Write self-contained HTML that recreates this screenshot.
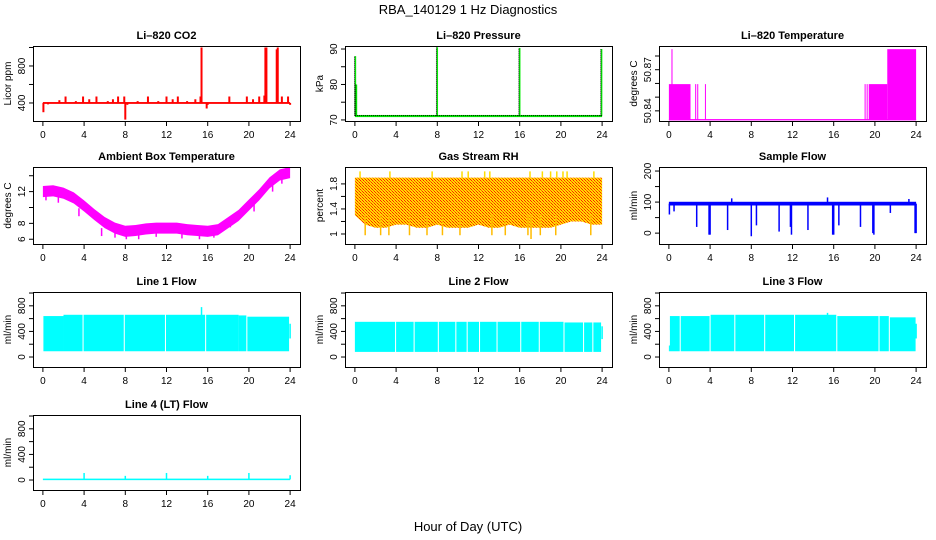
<!DOCTYPE html>
<html><head><meta charset="utf-8"><style>
body{margin:0;background:#fff}
svg{display:block;font-family:"Liberation Sans",sans-serif}
</style></head><body>
<svg id="c" width="936" height="540" viewBox="0 0 936 540">
<defs><pattern id="rh" width="3" height="3" patternUnits="userSpaceOnUse"><rect width="3" height="3" fill="#ffdd00"/><rect width="1" height="1" fill="#ff2000"/><rect x="1" y="1" width="1" height="1" fill="#ff6000"/><rect x="2" y="2" width="1" height="1" fill="#ff2000"/></pattern></defs>
<text x="468" y="14" text-anchor="middle" font-size="13">RBA_140129  1 Hz Diagnostics</text>
<text x="468" y="531" text-anchor="middle" font-size="13">Hour of Day (UTC)</text>
</svg>
<script>
// ---- data ----
const xTicks=[0,4,8,12,16,20,24];
const co2Spikes=[[0.05,300],[0.5,385],[1.6,430],[2.2,470],[3.2,420],[3.9,470],[4.5,440],[5.2,470],[6.3,420],[6.8,440],[7.3,470],[7.9,470],[8.0,220],[8.2,380],[9.2,420],[10.2,470],[11.2,420],[12.0,470],[12.6,440],[13.1,470],[14.0,420],[14.8,440],[15.3,470],[15.4,1000],[15.9,340],[16.0,380],[18.1,470],[19.8,470],[20.4,440],[21.0,470],[21.5,480],[21.6,1000],[21.7,1000],[22.7,980],[22.8,1000],[23.2,470],[23.8,470],[24.0,380]];
const presBase=71.2;
const presSpikes=[[0.05,88],[0.15,80],[8.0,90.5],[16.0,90.3],[23.95,90]];
const tempBase=50.8335;
const tempSegs=[[0,2.1,50.8595],[0.25,0.35,50.885],[2.55,2.65,50.8595],[2.75,2.85,50.8595],[3.5,3.55,50.8595],[19.0,19.05,50.8595],[19.2,19.25,50.8595],[19.4,21.2,50.8595],[21.2,24.0,50.885]];
const ambHours=[0,1,2,3,4,5,6,7,8,9,10,11,12,13,14,15,16,17,18,19,20,21,22,23,24];
const ambVals=[12.2,12.3,12.0,11.4,10.4,9.3,8.3,7.6,7.2,7.3,7.5,7.6,7.6,7.6,7.4,7.3,7.2,7.4,8.3,9.2,10.5,11.8,13.3,14.3,14.6];
const ambDips=[[0.3,10.9],[1.5,10.6],[3.5,8.9],[5.7,6.4],[7.0,6.2],[8.1,6.0],[9.3,6.0],[11.0,6.3],[13.5,6.1],[15.2,6.0],[16.6,6.2],[18.2,7.5],[20.5,9.5],[22.3,12.0],[23.2,13.0]];
const rhHours=[0,1,2,3,4,5,6,7,8,9,10,11,12,13,14,15,16,17,18,19,20,21,22,23,24];
const rhTop=[1.9,1.9,1.9,1.9,1.9,1.9,1.9,1.9,1.9,1.9,1.9,1.9,1.9,1.9,1.9,1.9,1.9,1.9,1.9,1.9,1.9,1.9,1.9,1.9,1.9];
const rhBot=[1.3,1.15,1.1,1.1,1.15,1.15,1.1,1.1,1.15,1.1,1.1,1.1,1.15,1.1,1.1,1.15,1.1,1.1,1.1,1.1,1.15,1.2,1.2,1.15,1.15];
const rhSpikes=[[0.5,2.0],[3.4,2.0],[7.5,2.0],[10.4,2.0],[11.0,2.0],[12.6,2.0],[13.1,2.0],[17.0,2.0],[18.2,2.0],[19.0,2.0],[19.6,2.0],[20.2,2.0],[20.6,2.0],[23.2,2.0]];
const rhDips=[[1.0,0.98],[2.5,0.98],[3.3,0.98],[5.3,0.98],[7.0,0.98],[8.5,0.98],[10.2,0.98],[13.3,0.98],[14.6,0.98],[16.8,0.98],[17.1,0.92],[18.0,0.98],[19.5,0.98],[22.9,0.98]];
const sfBase=95;
const sfDips=[[0.05,60],[0.5,70],[2.7,20],[3.9,-5],[4.0,-5],[5.7,10],[8.0,-10],[8.5,25],[10.7,5],[11.8,20],[11.9,-5],[13.5,10],[15.9,-5],[16.0,-5],[16.5,25],[18.6,20],[19.8,0],[19.9,-5],[21.5,65],[23.9,0],[24.0,0]];
const sfSpikes=[[6.1,112],[15.4,115],[23.3,110]];
const l1Segs=[[0.05,2,640],[2,3.85,660],[3.95,7.85,660],[7.95,11.85,660],[11.95,15.75,660],[15.85,19.0,660],[19.0,19.75,650],[19.85,23.9,630]];
const l1Bot=90;
const l1Spikes=[[15.4,780],[24.0,520]];
const l2Segs=[[0,3.9,550],[4.0,5.7,550],[5.8,8.05,550],[8.15,9.75,550],[9.85,10.85,550],[10.95,12.05,550],[12.15,13.75,550],[13.85,16.05,550],[16.15,17.85,550],[17.95,20.25,550],[20.35,22.15,540],[22.25,23.05,540],[23.15,23.9,540]];
const l2Bot=80;
const l2Spikes=[[24.0,480]];
const l3Segs=[[0,0.1,180],[0.1,1.05,640],[1.15,3.95,640],[4.05,6.35,660],[6.45,9.25,660],[9.35,12.15,660],[12.25,16.25,660],[16.35,20.35,640],[20.45,21.35,640],[21.45,23.95,620]];
const l3Bot=90;
const l3Spikes=[[15.4,690],[24.0,520]];
const l4Base=10;
const l4Spikes=[[4.0,110],[8.0,65],[12.0,110],[16.0,65],[20.0,110],[24.0,75]];

// ---- drawing ----
const svg=document.getElementById('c');const NS='http://www.w3.org/2000/svg';
function mk(tag,at,parent){const e=document.createElementNS(NS,tag);for(const k in at)e.setAttribute(k,at[k]);(parent||svg).appendChild(e);return e;}
const cols=[33,345,659],W=267;
const rows=[[46,121],[167,244],[292,367],[415,490]];
function panel(name,title,col,row,ylim,yt,ylab,ylabTxt){
  const x0=cols[col],[t,b]=rows[row];
  const g=mk('g',{});
  
  
  const X=h=>x0+(h+0.96)/25.92*W;
  const Y=v=>b-(v-ylim[0])/(ylim[1]-ylim[0])*(b-t);
  const tt=mk('text',{x:x0+W/2,y:t-7,'text-anchor':'middle','font-size':11,'font-weight':'bold'},g);tt.textContent=title;
  
  
  const marks=mk('g',{},g);
  const ax=mk('g',{stroke:'#000','stroke-width':1,fill:'none'},g);
  mk('rect',{x:x0+0.5,y:t+0.5,width:W,height:b-t},ax);
  mk('line',{x1:X(0),x2:X(24),y1:b+0.5,y2:b+0.5},ax);
  xTicks.forEach(h=>{mk('line',{x1:X(h),x2:X(h),y1:b,y2:b+5},ax);
    const l=mk('text',{x:X(h),y:b+17,'text-anchor':'middle','font-size':10},g);l.textContent=h;
    
    });
  mk('line',{x1:x0+0.5,x2:x0+0.5,y1:Y(yt[0]),y2:Y(yt[yt.length-1])},ax);
  yt.forEach(v=>{mk('line',{x1:x0-4,x2:x0,y1:Y(v),y2:Y(v)},ax);});
  ylab.forEach(v=>{const l=mk('text',{transform:`translate(${x0-8},${Y(v)}) rotate(-90)`,'text-anchor':'middle','font-size':10},g);l.textContent=v;
    
    });
  const yl=mk('text',{transform:`translate(${x0-22},${(t+b)/2}) rotate(-90)`,'text-anchor':'middle','font-size':10},g);yl.textContent=ylabTxt;
  
  
  return {X,Y,m:marks};
}
function vl(p,h,a,bv,col,w){const e=mk('line',{x1:p.X(h),x2:p.X(h),y1:p.Y(a),y2:p.Y(bv),stroke:col,'stroke-width':w||1.5},p.m);
  
  return e;}
function rect(p,h0,h1,v0,v1,fill){const e=mk('rect',{x:p.X(h0),y:p.Y(v1),width:Math.max(1,p.X(h1)-p.X(h0)),height:p.Y(v0)-p.Y(v1),fill:fill},p.m);
  
  return e;}

// CO2
let p=panel('co2','Li\u2013820 CO2',0,0,[205,1016],[400,600,800,1000],[400,800],'Licor ppm');
rect(p,0,24,390,410,'#ff0000');
co2Spikes.forEach(([h,v])=>vl(p,h,400,v,'#ff0000',2));
// Pressure
p=panel('pressure','Li\u2013820 Pressure',1,0,[69.7,90.85],[70,75,80,85,90],[70,80,90],'kPa');
rect(p,0,24,presBase-0.4,presBase+0.2,'#00ee00');
presSpikes.forEach(([h,v])=>{vl(p,h,presBase,v,'#00ee00',1.5);});
mk('line',{x1:p.X(0),x2:p.X(24),y1:p.Y(presBase),y2:p.Y(presBase),stroke:'#000','stroke-dasharray':'1,1'},p.m);
presSpikes.forEach(([h,v])=>{const e=vl(p,h-0.08,presBase,v,'#000',1);e.setAttribute('stroke-dasharray','1,1');});
// Temperature
p=panel('li820-temp','Li\u2013820 Temperature',2,0,[50.8326,50.8873],[50.84,50.85,50.86,50.87,50.88],[50.84,50.87],'degrees C');
rect(p,0,24,tempBase-0.0005,tempBase+0.0005,'#ff00ff');
tempSegs.forEach(([a,b2,v])=>rect(p,a,b2,tempBase,v,'#ff00ff'));
// Ambient
p=panel('ambient','Ambient Box Temperature',0,1,[5.4,15.1],[6,8,10,12,14],[6,8,12],'degrees C');
{let pts=ambHours.map((h,i)=>p.X(h)+','+p.Y(ambVals[i]+0.5));
 for(let i=ambHours.length-1;i>=0;i--)pts.push(p.X(ambHours[i])+','+p.Y(ambVals[i]-0.9));
 const e=mk('polygon',{points:pts.join(' '),fill:'#ff00ff'},p.m);
 
 }
ambDips.forEach(([h,v])=>vl(p,h,v+1,v,'#ff00ff',1.5));
// RH
p=panel('rh','Gas Stream RH',1,1,[0.84,2.07],[1.0,1.2,1.4,1.6,1.8],[1.0,1.4,1.8],'percent');
{let pts=rhHours.map((h,i)=>p.X(h)+','+p.Y(rhTop[i]));
 for(let i=rhHours.length-1;i>=0;i--)pts.push(p.X(rhHours[i])+','+p.Y(rhBot[i]));
 const e=mk('polygon',{points:pts.join(' '),fill:'url(#rh)'},p.m);
 
 }
rhSpikes.forEach(([h,v])=>vl(p,h,1.9,v,'#ffdd00',1.5));
rhDips.forEach(([h,v])=>vl(p,h,1.3,v,'#ffbb00',1.5));
// Sample flow
p=panel('sample-flow','Sample Flow',2,1,[-35,213],[0,50,100,150,200],[0,100,200],'ml/min');
rect(p,0,24,sfBase-6,sfBase+6,'#0000ff');
sfDips.forEach(([h,v])=>vl(p,h,sfBase,v,'#0000ff',1.5));
sfSpikes.forEach(([h,v])=>vl(p,h,sfBase,v,'#0000ff',1.5));
// Line flows
const flowT=[0,200,400,600,800,1000],flowL=[0,400,800],fl=[-156,1016];
[['line1','Line 1 Flow',0,2,l1Segs,l1Bot,l1Spikes],['line2','Line 2 Flow',1,2,l2Segs,l2Bot,l2Spikes],['line3','Line 3 Flow',2,2,l3Segs,l3Bot,l3Spikes]].forEach(([n,ti,c,r,segs,bot,sp])=>{
  const q=panel(n,ti,c,r,fl,flowT,flowL,'ml/min');
  segs.forEach(([a,b2,v])=>rect(q,a,b2,bot,v,'#00ffff'));
  sp.forEach(([h,v])=>vl(q,h,bot+200,v,'#00ffff',1.5));
});
p=panel('line4','Line 4 (LT) Flow',0,3,fl,flowT,flowL,'ml/min');
rect(p,0,24,l4Base-12,l4Base+12,'#00ffff');
l4Spikes.forEach(([h,v])=>vl(p,h,l4Base,v,'#00ffff',1.5));
</script>
</body></html>
